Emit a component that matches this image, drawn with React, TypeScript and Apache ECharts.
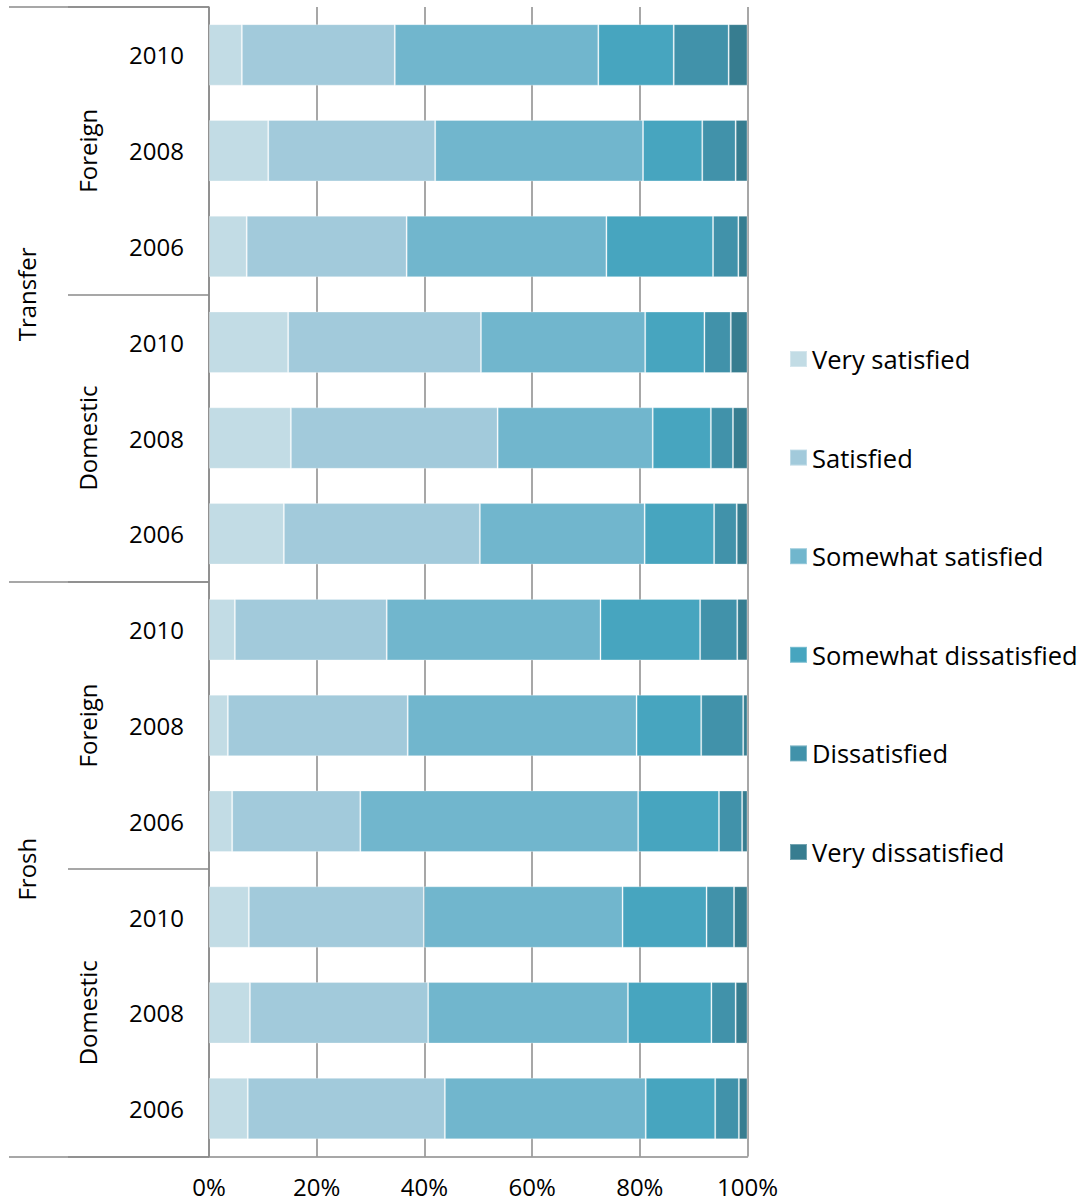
import React, { useEffect, useRef } from "react";
import * as echarts from "echarts";

const studentTypes = ["Transfer", "Frosh"];
const origins = ["Foreign", "Domestic"];
const years = ["2010", "2008", "2006"];

const seriesNames = [
  "Very satisfied",
  "Satisfied",
  "Somewhat satisfied",
  "Somewhat dissatisfied",
  "Dissatisfied",
  "Very dissatisfied",
];

// rows top-to-bottom: Transfer Foreign 2010..2006, Transfer Domestic, Frosh Foreign, Frosh Domestic
const verySatisfied = [6.1, 11.0, 7.0, 14.7, 15.2, 13.9, 4.8, 3.5, 4.3, 7.4, 7.6, 7.2];
const satisfied = [28.4, 31.0, 29.7, 35.8, 38.4, 36.4, 28.2, 33.4, 23.8, 32.5, 33.1, 36.6];
const somewhatSatisfied = [37.8, 38.6, 37.1, 30.5, 28.8, 30.6, 39.7, 42.5, 51.6, 36.9, 37.1, 37.3];
const somewhatDissatisfied = [14.0, 11.0, 19.8, 11.0, 10.8, 12.9, 18.5, 12.0, 15.0, 15.6, 15.5, 12.9];
const dissatisfied = [10.2, 6.2, 4.7, 4.9, 4.1, 4.2, 6.9, 7.8, 4.3, 5.1, 4.5, 4.4];
const veryDissatisfied = [3.5, 2.2, 1.7, 3.1, 2.7, 2.0, 1.9, 0.8, 1.0, 2.5, 2.2, 1.6];

const colors = ["#c2dce5", "#a2cadb", "#71b6cd", "#47a5bf", "#4192aa", "#377d90"];

const xTicks = [0, 20, 40, 60, 80, 100];

const FONT = "'Open Sans', 'Noto Sans', sans-serif";
const GRAY = "#8a8a8a";

export default function App() {
  const ref = useRef<HTMLDivElement>(null);
  useEffect(() => {
    document.body.style.margin = "0";
    if (!ref.current) return;
    const chart = echarts.init(ref.current, null, { renderer: "svg" });

    const yearCats: string[] = [];
    const originCats: string[] = [];
    studentTypes.forEach((t) => {
      origins.forEach((o) => {
        originCats.push(`${t}|${o}`);
        years.forEach((y) => yearCats.push(`${t}|${o}|${y}`));
      });
    });
    const typeCats = studentTypes.map((t) => t);
    const lastPart = (v: string) => {
      const p = String(v).split("|");
      return p[p.length - 1];
    };

    const values = [
      verySatisfied,
      satisfied,
      somewhatSatisfied,
      somewhatDissatisfied,
      dissatisfied,
      veryDissatisfied,
    ];

    chart.setOption({
      animation: false,
      color: colors,
      textStyle: { fontFamily: FONT },
      grid: {
        left: 209,
        right: 337.5,
        top: 7,
        bottom: 45.5,
        containLabel: false,
        outerBoundsMode: "none",
      },
      legend: {
        orient: "vertical",
        left: 789,
        top: 344,
        padding: 0,
        icon: "rect",
        itemWidth: 17,
        itemHeight: 16,
        itemGap: 68.6,
        data: seriesNames,
        textStyle: { fontSize: 25.5, lineHeight: 30, color: "#000", fontFamily: FONT },
      },
      xAxis: {
        type: "value",
        min: xTicks[0],
        max: xTicks[xTicks.length - 1],
        interval: 20,
        axisLine: { show: true, lineStyle: { color: GRAY, width: 1.5 } },
        axisTick: { show: false },
        splitLine: { show: true, lineStyle: { color: GRAY, width: 1.5 } },
        axisLabel: {
          formatter: "{value}%",
          fontSize: 24,
          color: "#000",
          margin: 18,
          fontFamily: FONT,
        },
      },
      yAxis: [
        {
          type: "category",
          inverse: true,
          data: yearCats,
          position: "left",
          axisLine: { show: true, lineStyle: { color: GRAY, width: 1.5 } },
          axisTick: { show: false },
          axisLabel: {
            formatter: lastPart,
            fontSize: 24,
            color: "#000",
            margin: 25,
            fontFamily: FONT,
          },
        },
        {
          type: "category",
          inverse: true,
          data: originCats,
          position: "left",
          axisLine: { show: false },
          axisTick: {
            show: true,
            length: 141,
            interval: 0,
            lineStyle: { color: GRAY, width: 1.5 },
          },
          axisLabel: {
            formatter: lastPart,
            fontSize: 24,
            color: "#000",
            rotate: 90,
            margin: 110,
            interval: 0,
            fontFamily: FONT,
          },
        },
        {
          type: "category",
          inverse: true,
          data: typeCats,
          position: "left",
          axisLine: { show: false },
          axisTick: {
            show: true,
            length: 200,
            interval: 0,
            lineStyle: { color: GRAY, width: 1.5 },
          },
          axisLabel: {
            fontSize: 24,
            color: "#000",
            rotate: 90,
            margin: 171,
            interval: 0,
            fontFamily: FONT,
          },
        },
      ],
      series: seriesNames.map((name, i) => ({
        name,
        type: "bar",
        stack: "total",
        yAxisIndex: 0,
        barCategoryGap: "35.8%",
        data: values[i],
        itemStyle: { borderColor: "rgba(255,255,255,0.3)", borderWidth: 1 },
        emphasis: { disabled: true },
      })),
    });
    return () => chart.dispose();
  }, []);
  return <div ref={ref} style={{ width: 1085, height: 1202 }} />;
}
